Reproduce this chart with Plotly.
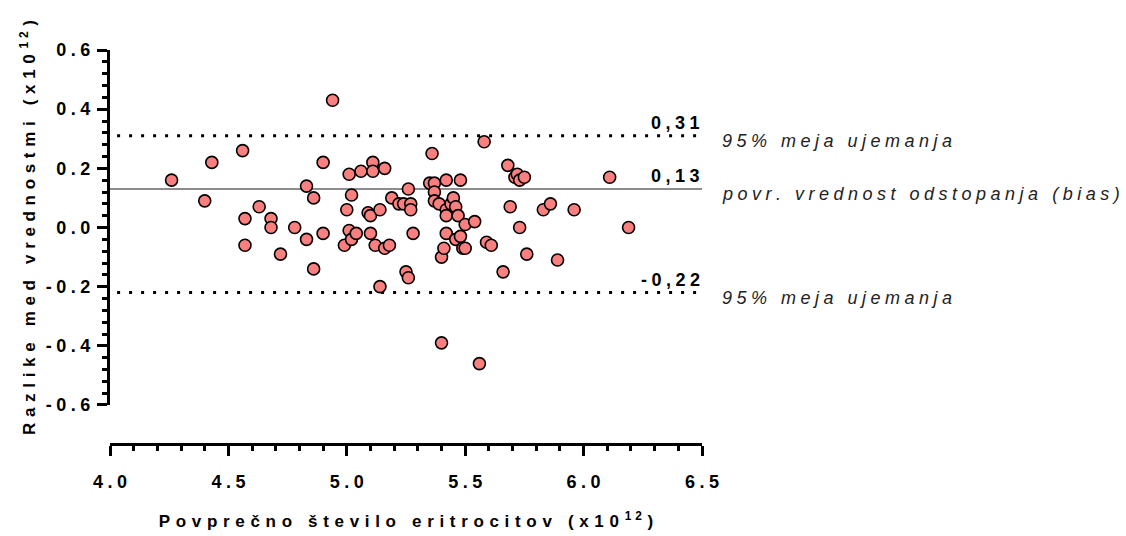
import plotly.graph_objects as go

# ---- data ----
mean_rbc = [4.26, 4.40, 4.43, 4.56, 4.57, 4.57, 4.63, 4.68, 4.68, 4.72,
            4.78, 4.83, 4.83, 4.86, 4.86, 4.90, 4.90, 4.94, 4.99, 5.00,
            5.01, 5.01, 5.02, 5.02, 5.04, 5.06, 5.09, 5.10, 5.10, 5.11,
            5.11, 5.12, 5.14, 5.14, 5.16, 5.16, 5.18, 5.19, 5.22, 5.24,
            5.25, 5.26, 5.26, 5.27, 5.27, 5.28, 5.35, 5.36, 5.37, 5.37,
            5.37, 5.39, 5.40, 5.40, 5.41, 5.42, 5.42, 5.42, 5.42, 5.44,
            5.45, 5.46, 5.46, 5.47, 5.48, 5.48, 5.49, 5.50, 5.50, 5.54,
            5.56, 5.58, 5.59, 5.61, 5.66, 5.68, 5.69, 5.71, 5.72, 5.73,
            5.73, 5.75, 5.76, 5.83, 5.86, 5.89, 5.96, 6.11, 6.19]
difference = [0.16, 0.09, 0.22, 0.26, 0.03, -0.06, 0.07, 0.03, 0.00, -0.09,
              0.00, 0.14, -0.04, 0.10, -0.14, 0.22, -0.02, 0.43, -0.06, 0.06,
              0.18, -0.01, 0.11, -0.04, -0.02, 0.19, 0.05, 0.04, -0.02, 0.22,
              0.19, -0.06, 0.06, -0.20, 0.20, -0.07, -0.06, 0.10, 0.08, 0.08,
              -0.15, -0.17, 0.13, 0.08, 0.06, -0.02, 0.15, 0.25, 0.15, 0.12,
              0.09, 0.08, -0.39, -0.10, -0.07, -0.02, 0.16, 0.06, 0.04, 0.08,
              0.10, 0.07, -0.04, 0.04, 0.16, -0.03, -0.07, 0.01, -0.07, 0.02,
              -0.46, 0.29, -0.05, -0.06, -0.15, 0.21, 0.07, 0.17, 0.18, 0.16,
              0.00, 0.17, -0.09, 0.06, 0.08, -0.11, 0.06, 0.17, 0.00]

bias = 0.13
upper_loa = 0.31
lower_loa = -0.22

x_tickvals = [4.0, 4.5, 5.0, 5.5, 6.0, 6.5]
x_ticklabels = ["4.0", "4.5", "5.0", "5.5", "6.0", "6.5"]
y_tickvals = [-0.6, -0.4, -0.2, 0.0, 0.2, 0.4, 0.6]
y_ticklabels = ["-0.6", "-0.4", "-0.2", "0.0", "0.2", "0.4", "0.6"]

value_labels = ["0,31", "0,13", "-0,22"]
line_labels = ["95% meja ujemanja", "povr. vrednost odstopanja (bias)", "95% meja ujemanja"]

x_title = "Povprečno število eritrocitov (x10<sup>12</sup>)"
y_title = "Razlike med vrednostmi (x10<sup>12</sup>)"


def spaced(s, sp="\u2005"):
    # letter-spaced look of the original (Prism-style)
    out = []
    i = 0
    while i < len(s):
        if s.startswith("<sup>", i):
            j = s.index("</sup>", i)
            inner = s[i + 5:j]
            out.append("<sup>" + sp.join(inner) + "</sup>")
            i = j + 6
        else:
            out.append(s[i])
            i += 1
    return sp.join(out)


FONT = "Liberation Sans, Arial, sans-serif"

fig = go.Figure()

# bias and limits of agreement
fig.add_trace(go.Scatter(x=[4.0, 6.5], y=[bias, bias], mode="lines",
                         line=dict(color="#8c8c8c", width=2),
                         hoverinfo="skip", showlegend=False))
for v in (upper_loa, lower_loa):
    fig.add_trace(go.Scatter(x=[4.03, 6.5], y=[v, v], mode="lines",
                             line=dict(color="black", width=3, dash="3px,9px"),
                             hoverinfo="skip", showlegend=False))

fig.add_trace(go.Scatter(
    x=mean_rbc, y=difference, mode="markers",
    marker=dict(size=12, color="#FA8080", line=dict(color="black", width=1.6)),
    showlegend=False, cliponaxis=False))

# annotations
for val, lab, yv in zip(value_labels, line_labels, [upper_loa, bias, lower_loa]):
    fig.add_annotation(x=6.5, y=yv, xref="x", yref="y", text=spaced(val),
                       showarrow=False, xanchor="right", yanchor="bottom",
                       yshift=1, font=dict(family=FONT, size=18, color="black", weight="bold"))
    fig.add_annotation(x=6.5, y=yv, xref="x", yref="y", text=spaced(lab),
                       showarrow=False, xanchor="left", yanchor="middle",
                       xshift=18, yshift=-5,
                       font=dict(family=FONT, size=18, color="#222", style="italic"))

fig.update_layout(
    width=1126, height=536,
    margin=dict(l=110, r=424, t=50, b=92),
    paper_bgcolor="white", plot_bgcolor="white",
    xaxis=dict(range=[4.0, 6.5], anchor="free", position=0, automargin=False,
               showgrid=False, zeroline=False,
               showline=True, linecolor="black", linewidth=3,
               ticks="outside", ticklen=10, tickwidth=3, tickcolor="black",
               ticklabelstandoff=10,
               tickvals=x_tickvals, ticktext=[spaced(t) for t in x_ticklabels],
               tickfont=dict(family=FONT, size=18, color="black", weight="bold"),
               minor=dict(dtick=0.1, ticks="outside", ticklen=5, tickwidth=3,
                          tickcolor="black", showgrid=False),
               title=dict(text=spaced(x_title, "\u2004"), standoff=24,
                          font=dict(family=FONT, size=17, color="black", weight="bold"))),
    yaxis=dict(range=[-0.6, 0.6], domain=[0.099, 1], automargin=False,
               showgrid=False, zeroline=False,
               showline=True, linecolor="black", linewidth=3,
               ticks="outside", ticklen=10, tickwidth=3, tickcolor="black",
               ticklabelstandoff=3,
               tickvals=y_tickvals, ticktext=[spaced(t) for t in y_ticklabels],
               tickfont=dict(family=FONT, size=18, color="black", weight="bold"),
               minor=dict(dtick=0.04, ticks="outside", ticklen=5, tickwidth=3,
                          tickcolor="black", showgrid=False),
               title=dict(text=spaced(y_title, "\u2004"), standoff=6,
                          font=dict(family=FONT, size=17, color="black", weight="bold"))),
)

fig.write_html("out.html")
